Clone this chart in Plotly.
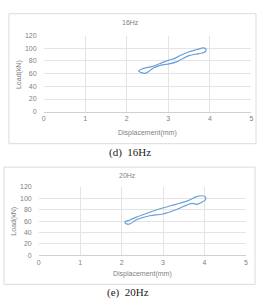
import plotly.graph_objects as go

W, H = 260, 301

# 16Hz hysteresis loop
disp_16 = [2.28, 2.35, 2.45, 2.6, 2.8, 3.0, 3.15, 3.3, 3.5, 3.7, 3.84, 3.9, 3.9, 3.82,
           3.65, 3.48, 3.33, 3.2, 3.02, 2.82, 2.62, 2.52, 2.44, 2.35, 2.28]
load_16 = [64, 67, 69, 71, 76, 81, 84, 89, 94.5, 98, 100.5, 99, 95, 92.5,
           90.5, 88, 83, 78.5, 75.5, 73.5, 68, 63, 60.5, 61.5, 64]

# 20Hz hysteresis loop
disp_20 = [2.08, 2.2, 2.36, 2.68, 2.99, 3.31, 3.59, 3.79, 3.94, 4.02, 4.02, 3.92,
           3.82, 3.7, 3.52, 3.31, 2.99, 2.68, 2.36, 2.2, 2.1, 2.08]
load_20 = [59, 62, 67, 75.5, 83, 89.5, 95.5, 102.5, 104.5, 102.5, 97, 92.5,
           89.5, 91, 86.5, 80, 72.5, 69.5, 62.5, 55, 56, 59]

x_ticks = [0, 1, 2, 3, 4, 5]
y_ticks = [0, 20, 40, 60, 80, 100, 120]
titles = ["16Hz", "20Hz"]
captions = ["(d)  16Hz", "(e)  20Hz"]
x_title = "Displacement(mm)"
y_title = "Load(kN)"

BLUE = "#6a9fd8"
GRID = "#e4e4e4"
TXT = "#7f7f7f"
SANS = "Liberation Sans, Arial, sans-serif"
SERIF = "Liberation Serif, Times New Roman, serif"

def px(x):
    return x / W

def py(y):
    return 1 - y / H

fig = go.Figure()
fig.add_trace(go.Scatter(x=disp_16, y=load_16, mode="lines", xaxis="x", yaxis="y",
                         line=dict(color=BLUE, width=1.2, shape="spline", smoothing=0.8),
                         showlegend=False, hoverinfo="skip"))
fig.add_trace(go.Scatter(x=disp_20, y=load_20, mode="lines", xaxis="x2", yaxis="y2",
                         line=dict(color=BLUE, width=1.2, shape="spline", smoothing=0.8),
                         showlegend=False, hoverinfo="skip"))

def xax(domain, anchor):
    return dict(domain=domain, anchor=anchor, range=[0, 5], tickvals=x_ticks,
                showgrid=True, gridcolor=GRID, gridwidth=1, zeroline=False,
                showline=True, linecolor="#d0d0d0", linewidth=1, ticks="",
                tickfont=dict(family=SANS, size=7, color=TXT), fixedrange=True)

def yax(domain, anchor):
    return dict(domain=domain, anchor=anchor, range=[0, 120], tickvals=y_ticks,
                showgrid=True, gridcolor=GRID, gridwidth=1, zeroline=False,
                showline=False, ticks="", ticklabelstandoff=6,
                tickfont=dict(family=SANS, size=7, color=TXT), fixedrange=True)

# plot areas in pixel coordinates
top = dict(x0=42.3, x1=253.3, y0=32.3, y1=110.3)
bot = dict(x0=37.3, x1=247.7, y0=187.3, y1=257.3)

fig.update_layout(
    width=W, height=H, margin=dict(l=0, r=0, t=0, b=0),
    paper_bgcolor="white", plot_bgcolor="white",
    xaxis=xax([px(top["x0"]), px(top["x1"])], "y"),
    yaxis=yax([py(top["y1"]), py(top["y0"])], "x"),
    xaxis2=xax([px(bot["x0"]), px(bot["x1"])], "y2"),
    yaxis2=yax([py(bot["y1"]), py(bot["y0"])], "x2"),
)

shapes = []
for (x0, y0, x1, y1) in [(7, 10, 258, 143), (2, 167, 257, 287)]:
    shapes.append(dict(type="rect", xref="paper", yref="paper",
                       x0=px(x0), x1=px(x1), y0=py(y1), y1=py(y0),
                       line=dict(color="#dcdcdc", width=1), fillcolor="rgba(0,0,0,0)"))
fig.update_layout(shapes=shapes)

ann = []
def a(text, x, y, size, font=SANS, color=TXT, angle=0):
    ann.append(dict(text=text, x=px(x), y=py(y), xref="paper", yref="paper",
                    showarrow=False, xanchor="center", yanchor="middle", textangle=angle,
                    font=dict(family=font, size=size, color=color)))

a(titles[0], 130, 19, 7)
a(titles[1], 127, 176, 7)
a(x_title, 148, 132, 7)
a(x_title, 143, 276.5, 7)
a(y_title, 18, 72, 7, angle=-90)
a(y_title, 12, 222, 7, angle=-90)
a(captions[0], 130, 152, 11, font=SERIF, color="#222222")
a(captions[1], 128, 295.5, 11, font=SERIF, color="#222222")
fig.update_layout(annotations=ann)

fig.write_html("out.html")
